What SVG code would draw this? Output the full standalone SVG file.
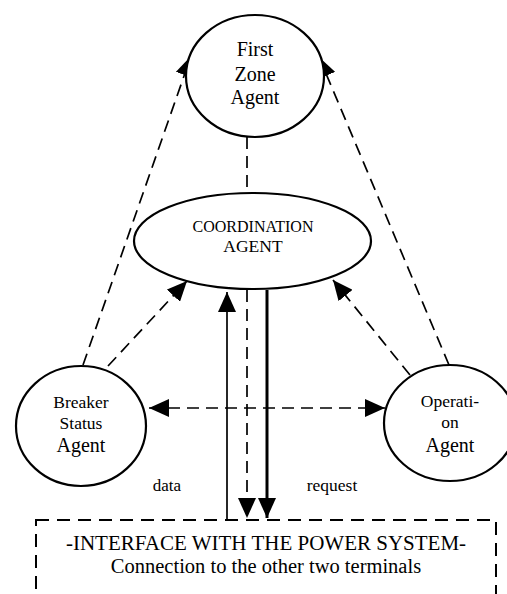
<svg xmlns="http://www.w3.org/2000/svg" width="507" height="594" viewBox="0 0 507 594">
  <style>
    .node { fill: #fff; stroke: #000; stroke-width: 2.2; }
    .t { font-family: "Liberation Serif", "Times New Roman", serif; fill: #000; text-anchor: middle; }
    .dash { fill: none; stroke: #000; stroke-width: 1.7; stroke-dasharray: 12 7; }
    .solid { fill: none; stroke: #000; stroke-width: 1.7; }
    .thick { fill: none; stroke: #000; stroke-width: 3; }
  </style>
  <defs>
    <marker id="ah" viewBox="0 0 20 18" refX="20" refY="9" markerWidth="20" markerHeight="18" markerUnits="userSpaceOnUse" orient="auto-start-reverse">
      <path d="M0,0 L20,9 L0,18 z" fill="#000"/>
    </marker>
  </defs>
  <rect width="507" height="594" fill="#fff"/>

  <g id="connectors">
    <line class="dash" x1="83" y1="365" x2="191" y2="56" marker-end="url(#ah)"/>
    <line class="dash" x1="449" y1="365" x2="319" y2="57" marker-end="url(#ah)"/>
    <line class="dash" x1="108" y1="366" x2="187" y2="281" marker-end="url(#ah)"/>
    <line class="dash" x1="410" y1="375" x2="333" y2="280" marker-end="url(#ah)"/>
    <line class="dash" x1="149" y1="408" x2="385" y2="408" marker-start="url(#ah)" marker-end="url(#ah)"/>
    <line class="dash" x1="247" y1="137" x2="247" y2="193"/>
    <line class="solid" x1="227" y1="520" x2="227" y2="292" marker-end="url(#ah)"/>
    <line class="dash" x1="247" y1="290" x2="247" y2="518" marker-end="url(#ah)"/>
    <line class="thick" x1="267" y1="290" x2="267" y2="518" marker-end="url(#ah)"/>
    <text class="t" x="167" y="491" font-size="17">data</text>
    <text class="t" x="332" y="491" font-size="17.5">request</text>
  </g>

  <g id="first-zone-agent">
    <ellipse class="node" cx="255" cy="76" rx="69" ry="61"/>
    <text class="t" x="255" y="56" font-size="20">First</text>
    <text class="t" x="255" y="81" font-size="20">Zone</text>
    <text class="t" x="255" y="104" font-size="20">Agent</text>
  </g>

  <g id="coordination-agent">
    <ellipse class="node" cx="252.5" cy="241" rx="118.5" ry="48"/>
    <text class="t" x="253" y="232" font-size="16">COORDINATION</text>
    <text class="t" x="253" y="252" font-size="17.5">AGENT</text>
  </g>

  <g id="breaker-status-agent">
    <ellipse class="node" cx="81" cy="426" rx="65" ry="60"/>
    <text class="t" x="81" y="408" font-size="17.5">Breaker</text>
    <text class="t" x="81" y="429" font-size="17.5">Status</text>
    <text class="t" x="81" y="452" font-size="20">Agent</text>
  </g>

  <g id="operation-agent">
    <ellipse class="node" cx="450" cy="423" rx="66" ry="58"/>
    <text class="t" x="450" y="407" font-size="17.5">Operati-</text>
    <text class="t" x="450" y="428" font-size="17.5">on</text>
    <text class="t" x="450" y="452" font-size="20">Agent</text>
  </g>

  <g id="power-system-interface">
    <rect x="36" y="520" width="460" height="110" fill="none" stroke="#000" stroke-width="2" stroke-dasharray="13 8"/>
    <text class="t" x="266" y="550" font-size="21">-INTERFACE WITH THE POWER SYSTEM-</text>
    <text class="t" x="266" y="573" font-size="20.5">Connection to the other two terminals</text>
  </g>
</svg>
